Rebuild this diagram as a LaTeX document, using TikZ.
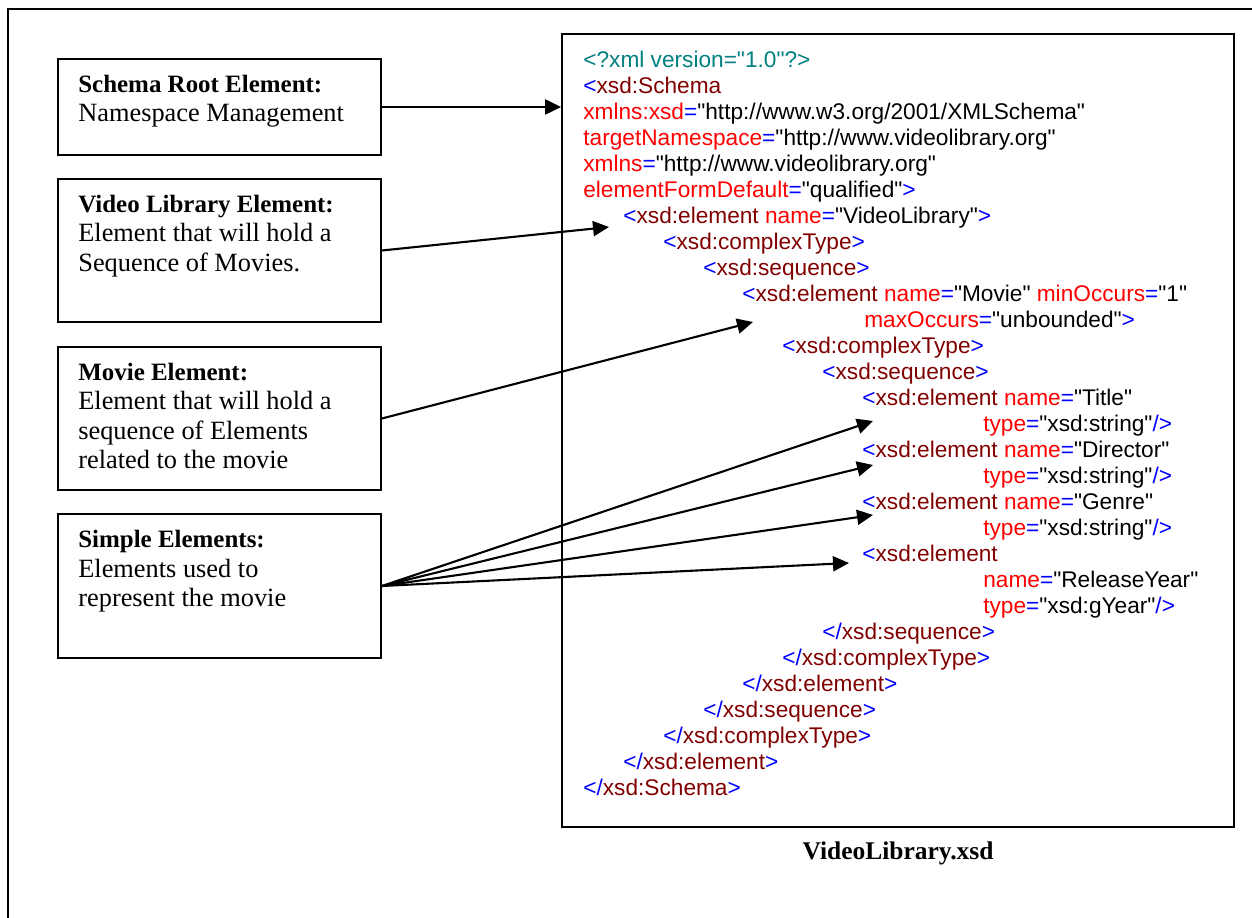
\documentclass[tikz,border=0pt]{standalone}
\usepackage{fontspec}
\setmainfont{Liberation Serif}
\newfontfamily\codefont{Liberation Sans}
\usetikzlibrary{arrows.meta}
\definecolor{xmlteal}{RGB}{0,128,128}
\definecolor{xmlblue}{RGB}{0,0,255}
\definecolor{xmlelem}{RGB}{128,0,0}
\definecolor{xmlattr}{RGB}{255,0,0}
\newcommand{\xbr}[1]{\textcolor{xmlblue}{#1}}
\newcommand{\xel}[1]{\textcolor{xmlelem}{#1}}
\newcommand{\xat}[2]{\textcolor{xmlattr}{#1}\xbr{=}"#2"}
\newcommand{\xopen}[1]{\xbr{<}\xel{#1}}
\newcommand{\xclose}[1]{\xbr{</}\xel{#1}\xbr{>}}
\newcommand{\boxhead}[1]{{\fontsize{14.2}{16.7}\selectfont\textbf{#1}}}
\begin{document}
\begin{tikzpicture}[x=0.02cm,y=-0.02cm,
    box/.style={draw, line width=1.1pt, minimum width=6.46cm, inner sep=0pt},
    boxtext/.style={anchor=north west, align=left, inner sep=0pt, font=\fontsize{15}{16.7}\selectfont},
    code/.style={anchor=base west, inner sep=0pt, font=\codefont\fontsize{12.9}{14.8}\selectfont},
    arr/.style={line width=1.2pt, -{Triangle[length=3.2mm,width=3mm]}}]
    \useasboundingbox (0,0) rectangle (1252,918);
    \draw[line width=1.1pt] (8,940) -- (8,9) -- (1270,9);
    % left boxes
    \node[box, minimum height=1.92cm] (rootbox) at (219.5,107) {};
    \node[boxtext] (roottext) at (78,75) {\boxhead{Schema Root Element:}\\Namespace Management};
    \node[box, minimum height=2.86cm] (vlbox) at (219.5,250.5) {};
    \node[boxtext] (vltext) at (78,195) {\boxhead{Video Library Element:}\\Element that will hold a\\Sequence of Movies.};
    \node[box, minimum height=2.86cm] (moviebox) at (219.5,418.5) {};
    \node[boxtext] (movietext) at (78,363) {\boxhead{Movie Element:}\\Element that will hold a\\sequence of Elements\\related to the movie};
    \node[box, minimum height=2.88cm] (simplebox) at (219.5,586) {};
    \node[boxtext] (simpletext) at (78,530) {\boxhead{Simple Elements:}\\Elements used to\\represent the movie};
    % schema file
    \node[draw, line width=1.1pt, minimum width=13.44cm, minimum height=15.86cm, inner sep=0pt] (codebox) at (898,430.5) {};
    \node[font=\bfseries\fontsize{14.5}{17}\selectfont] (caption) at (898,853) {VideoLibrary.xsd};
    \node[code] (l1) at (583,68) {\textcolor{xmlteal}{<?xml version="1.0"?>}};
    \node[code] (l2) at (583,94) {\xopen{xsd:Schema}};
    \node[code] (l3) at (583,120) {\xat{xmlns:xsd}{http://www.w3.org/2001/XMLSchema}};
    \node[code] (l4) at (583,146) {\xat{targetNamespace}{http://www.videolibrary.org}};
    \node[code] (l5) at (583,172) {\xat{xmlns}{http://www.videolibrary.org}};
    \node[code] (l6) at (583,198) {\xat{elementFormDefault}{qualified}\xbr{>}};
    \node[code] (l7) at (623,224) {\xopen{xsd:element} \xat{name}{VideoLibrary}\xbr{>}};
    \node[code] (l8) at (663,250) {\xopen{xsd:complexType}\xbr{>}};
    \node[code] (l9) at (703,276) {\xopen{xsd:sequence}\xbr{>}};
    \node[code] (l10) at (742,302) {\xopen{xsd:element} \xat{name}{Movie} \xat{minOccurs}{1}};
    \node[code] (l11) at (864,328) {\xat{maxOccurs}{unbounded}\xbr{>}};
    \node[code] (l12) at (782,354) {\xopen{xsd:complexType}\xbr{>}};
    \node[code] (l13) at (822,380) {\xopen{xsd:sequence}\xbr{>}};
    \node[code] (l14) at (862,406) {\xopen{xsd:element} \xat{name}{Title}};
    \node[code] (l15) at (983,432) {\xat{type}{xsd:string}\xbr{/>}};
    \node[code] (l16) at (862,458) {\xopen{xsd:element} \xat{name}{Director}};
    \node[code] (l17) at (983,484) {\xat{type}{xsd:string}\xbr{/>}};
    \node[code] (l18) at (862,510) {\xopen{xsd:element} \xat{name}{Genre}};
    \node[code] (l19) at (983,536) {\xat{type}{xsd:string}\xbr{/>}};
    \node[code] (l20) at (862,562) {\xopen{xsd:element}};
    \node[code] (l21) at (983,588) {\xat{name}{ReleaseYear}};
    \node[code] (l22) at (983,614) {\xat{type}{xsd:gYear}\xbr{/>}};
    \node[code] (l23) at (822,640) {\xclose{xsd:sequence}};
    \node[code] (l24) at (782,666) {\xclose{xsd:complexType}};
    \node[code] (l25) at (742,692) {\xclose{xsd:element}};
    \node[code] (l26) at (703,718) {\xclose{xsd:sequence}};
    \node[code] (l27) at (663,744) {\xclose{xsd:complexType}};
    \node[code] (l28) at (623,770) {\xclose{xsd:element}};
    \node[code] (l29) at (583,796) {\xclose{xsd:Schema}};
    % arrow tips
    \coordinate (vltip) at (609,227);
    \coordinate (movietip) at (753,322);
    \coordinate (titletip) at (873,421);
    \coordinate (directortip) at (873,465);
    \coordinate (genretip) at (873,515);
    \coordinate (yeartip) at (849,563);
    \draw[arr] (rootbox.east) -- (rootbox.east -| codebox.west);
    \draw[arr] (vlbox.east) -- (vltip);
    \draw[arr] (moviebox.east) -- (movietip);
    \draw[arr] (simplebox.east) -- (titletip);
    \draw[arr] (simplebox.east) -- (directortip);
    \draw[arr] (simplebox.east) -- (genretip);
    \draw[arr] (simplebox.east) -- (yeartip);
\end{tikzpicture}
\end{document}
